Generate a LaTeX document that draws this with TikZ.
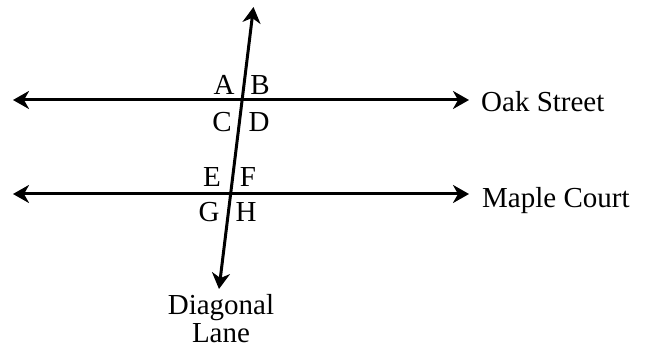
\documentclass[tikz,border=0pt]{standalone}
\usepackage{fontspec}
\setmainfont{Liberation Serif}
\usetikzlibrary{arrows.meta}
\begin{document}
\begin{tikzpicture}[x=1pt,y=-1pt,
  road/.style={line width=3pt,{Stealth[length=16pt,width=18pt,inset=5pt]}-{Stealth[length=16pt,width=18pt,inset=5pt]}},
  lbl/.style={font=\fontsize{29}{29}\selectfont,inner sep=0pt},
  nm/.style={font=\fontsize{29}{29}\selectfont,inner sep=0pt,anchor=base west}]
\useasboundingbox (0,0) rectangle (646,347);
\coordinate (oakL) at (13,100);
\coordinate (oakR) at (469,100);
\coordinate (mapL) at (13,194);
\coordinate (mapR) at (469,194);
\coordinate (diagT) at (253.5,7);
\coordinate (diagB) at (219,289);
\draw[road] (oakL) -- (oakR);
\draw[road] (mapL) -- (mapR);
\draw[road] (diagB) -- (diagT);
\node[lbl] (A) at (224,85) {A};
\node[lbl] (B) at (260,85) {B};
\node[lbl] (C) at (222,122) {C};
\node[lbl] (D) at (259,122) {D};
\node[lbl] (E) at (212,177) {E};
\node[lbl] (F) at (248,177) {F};
\node[lbl] (G) at (209,212) {G};
\node[lbl] (H) at (246,212) {H};
\node[nm] (oak) at (481,112) {Oak Street};
\node[nm] (maple) at (482,208) {Maple Court};
\node[font=\fontsize{29}{27.5}\selectfont,inner sep=0pt,text depth=0pt,anchor=base,align=center] (diag) at (221,342.5) {Diagonal\\Lane};
\end{tikzpicture}
\end{document}
